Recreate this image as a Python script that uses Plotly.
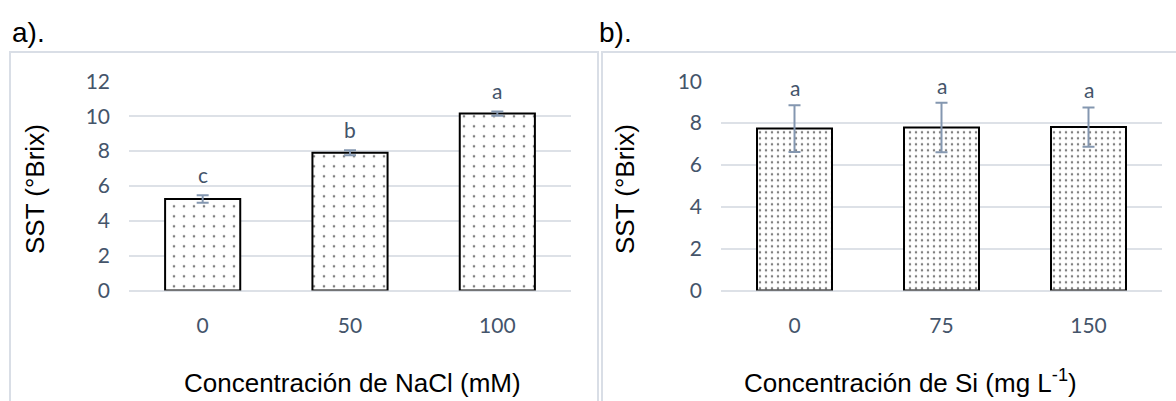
import plotly.graph_objects as go

W, H = 1176, 401

# ---- data ----
nacl_cats = ["0", "50", "100"]
nacl_sst = [5.25, 7.90, 10.15]
nacl_err = [0.22, 0.14, 0.12]
nacl_letters = ["c", "b", "a"]

si_cats = ["0", "75", "150"]
si_sst = [7.74, 7.79, 7.81]
si_err = [1.12, 1.18, 0.94]
si_letters = ["a", "a", "a"]

yticks_a = [0, 2, 4, 6, 8, 10, 12]
yticks_b = [0, 2, 4, 6, 8, 10]


def px(x):
    return x / W


def py(y):
    return 1 - y / H


TICK_COLOR = "#44546A"
ERR_COLOR = "#8497B0"
GRID_COLOR = "#DDE1E7"
BORDER_COLOR = "#D9DEE6"
TICK_FONT = dict(family="Lato", size=21, color=TICK_COLOR)
TITLE_FONT = dict(family="Liberation Sans, Arial", size=26, color="black")

fig = go.Figure()

fig.add_trace(go.Bar(
    x=nacl_cats, y=nacl_sst, xaxis="x", yaxis="y",
    error_y=dict(type="data", array=nacl_err, color=ERR_COLOR, thickness=2, width=6),
    marker=dict(color="white", line=dict(color="black", width=2),
                pattern=dict(shape=".", fgcolor="black", bgcolor="white", size=10, solidity=0.055)),
    showlegend=False,
))
fig.add_trace(go.Bar(
    x=si_cats, y=si_sst, xaxis="x2", yaxis="y2",
    error_y=dict(type="data", array=si_err, color=ERR_COLOR, thickness=2, width=6),
    marker=dict(color="white", line=dict(color="black", width=2),
                pattern=dict(shape=".", fgcolor="black", bgcolor="white", size=6, solidity=0.13)),
    showlegend=False,
))

ydom = [py(290.5), py(81.3)]
common_x = dict(type="category", range=[-0.5, 2.5], showgrid=False, showline=False, ticks="",
                zeroline=False, tickfont=TICK_FONT, ticklabelstandoff=20, automargin=False)
common_y = dict(showgrid=True, gridcolor=GRID_COLOR, gridwidth=1.5, zeroline=True,
                zerolinecolor=GRID_COLOR, zerolinewidth=1.5, showline=False, ticks="",
                tickfont=TICK_FONT, ticklabelstandoff=18, automargin=False)

fig.update_layout(
    width=W, height=H,
    margin=dict(l=0, r=0, t=0, b=0),
    paper_bgcolor="white", plot_bgcolor="white",
    bargap=0.49,
    xaxis=dict(domain=[px(129), px(571)], anchor="y", categoryorder="array",
               categoryarray=nacl_cats, **common_x),
    yaxis=dict(domain=ydom, anchor="x", range=[0, 12], tickvals=yticks_a, **common_y),
    xaxis2=dict(domain=[px(721), px(1162)], anchor="y2", categoryorder="array",
                categoryarray=si_cats, **common_x),
    yaxis2=dict(domain=ydom, anchor="x2", range=[0, 10], tickvals=yticks_b, **common_y),
)

annotations = []
for i, (v, e, t) in enumerate(zip(nacl_sst, nacl_err, nacl_letters)):
    annotations.append(dict(x=i, y=v + e, xref="x", yref="y", text=t, showarrow=False,
                            yanchor="bottom", yshift=6, font=TICK_FONT))
for i, (v, e, t) in enumerate(zip(si_sst, si_err, si_letters)):
    annotations.append(dict(x=i, y=v + e, xref="x2", yref="y2", text=t, showarrow=False,
                            yanchor="bottom", yshift=3, font=TICK_FONT))

# axis titles
annotations += [
    dict(x=px(35), y=py(189), xref="paper", yref="paper", text="SST (°Brix)", textangle=-90,
         showarrow=False, xanchor="center", yanchor="middle", font=TITLE_FONT),
    dict(x=px(625), y=py(189), xref="paper", yref="paper", text="SST (°Brix)", textangle=-90,
         showarrow=False, xanchor="center", yanchor="middle", font=TITLE_FONT),
    dict(x=px(353), y=py(400), xref="paper", yref="paper", text="Concentración de NaCl (mM)",
         showarrow=False, xanchor="center", yanchor="bottom", font=TITLE_FONT),
    dict(x=px(910), y=py(400), xref="paper", yref="paper",
         text="Concentración de Si (mg L<sup>-1</sup>)",
         showarrow=False, xanchor="center", yanchor="bottom", font=TITLE_FONT),
    dict(x=px(10), y=py(32), xref="paper", yref="paper", text="a).", showarrow=False,
         xanchor="left", yanchor="middle", font=dict(family="Liberation Sans, Arial", size=28, color="black")),
    dict(x=px(597), y=py(32), xref="paper", yref="paper", text="b).", showarrow=False,
         xanchor="left", yanchor="middle", font=dict(family="Liberation Sans, Arial", size=28, color="black")),
]
fig.update_layout(annotations=annotations)

shapes = [
    dict(type="rect", xref="paper", yref="paper", x0=px(10), x1=px(598), y0=py(410), y1=py(52),
         line=dict(color=BORDER_COLOR, width=2), fillcolor="rgba(0,0,0,0)", layer="below"),
    dict(type="rect", xref="paper", yref="paper", x0=px(602), x1=px(1185), y0=py(410), y1=py(52),
         line=dict(color=BORDER_COLOR, width=2), fillcolor="rgba(0,0,0,0)", layer="below"),
]
fig.update_layout(shapes=shapes)

fig.write_html("out.html")
